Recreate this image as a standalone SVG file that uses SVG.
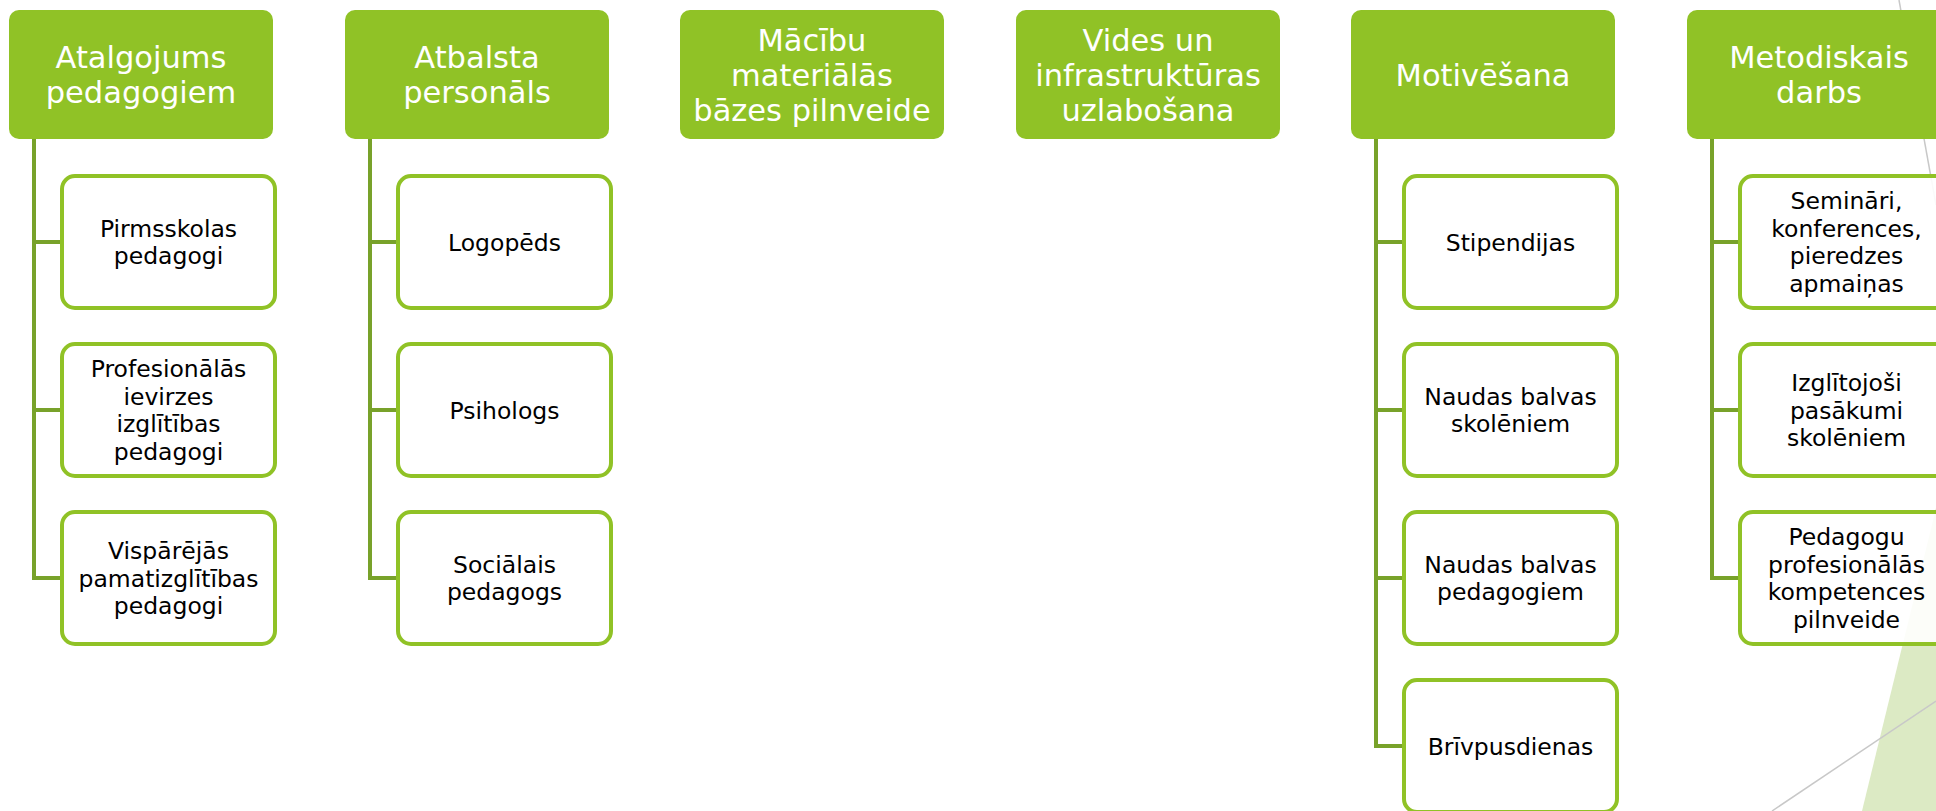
<svg xmlns="http://www.w3.org/2000/svg" width="1936" height="811" viewBox="0 0 1936 811">
<style>
.hdr{fill:#90C226;}
.htxt{font-family:"DejaVu Sans",sans-serif;font-size:30.5px;fill:#FFFFFF;text-anchor:middle;}
.child{fill:#FFFFFF;fill-opacity:0.9;stroke:#90C226;stroke-width:4;}
.ctxt{font-family:"DejaVu Sans",sans-serif;font-size:23.5px;fill:#000000;text-anchor:middle;}
.conn{fill:none;stroke:#78A22A;stroke-width:4;stroke-linejoin:miter;}
.deco{stroke:#C8C8C8;stroke-width:1.5;fill:none;}
</style>
<rect width="1936" height="811" fill="#FFFFFF"/>
<g id="background">
<polygon points="1862,811 1936,508 1936,811" fill="#DCEAC4"/>
<line class="deco" x1="1899" y1="0" x2="1936" y2="205"/>
<line class="deco" x1="1772" y1="811" x2="1936" y2="701"/>
</g>
<g id="connectors">
<path class="conn" d="M34,139 V578 H60 M34,242 H60 M34,410 H60"/>
<path class="conn" d="M370,139 V578 H396 M370,242 H396 M370,410 H396"/>
<path class="conn" d="M1376,139 V746 H1402 M1376,242 H1402 M1376,410 H1402 M1376,578 H1402"/>
<path class="conn" d="M1712,139 V578 H1738 M1712,242 H1738 M1712,410 H1738"/>
</g>
<g id="h1">
<rect class="hdr" x="9" y="10" width="264" height="129" rx="10"/>
<text class="htxt"><tspan x="141" y="68">Atalgojums</tspan><tspan x="141" y="103">pedagogiem</tspan></text>
</g>
<g id="c1a">
<rect class="child" x="62" y="176" width="213" height="132" rx="13"/>
<text class="ctxt"><tspan x="168.5" y="236.75">Pirmsskolas</tspan><tspan x="168.5" y="264.25">pedagogi</tspan></text>
</g>
<g id="c1b">
<rect class="child" x="62" y="344" width="213" height="132" rx="13"/>
<text class="ctxt"><tspan x="168.5" y="377.25">Profesionālās</tspan><tspan x="168.5" y="404.75">ievirzes</tspan><tspan x="168.5" y="432.25">izglītības</tspan><tspan x="168.5" y="459.75">pedagogi</tspan></text>
</g>
<g id="c1c">
<rect class="child" x="62" y="512" width="213" height="132" rx="13"/>
<text class="ctxt"><tspan x="168.5" y="559">Vispārējās</tspan><tspan x="168.5" y="586.5">pamatizglītības</tspan><tspan x="168.5" y="614">pedagogi</tspan></text>
</g>
<g id="h2">
<rect class="hdr" x="345" y="10" width="264" height="129" rx="10"/>
<text class="htxt"><tspan x="477" y="68">Atbalsta</tspan><tspan x="477" y="103">personāls</tspan></text>
</g>
<g id="c2a">
<rect class="child" x="398" y="176" width="213" height="132" rx="13"/>
<text class="ctxt"><tspan x="504.5" y="250.5">Logopēds</tspan></text>
</g>
<g id="c2b">
<rect class="child" x="398" y="344" width="213" height="132" rx="13"/>
<text class="ctxt"><tspan x="504.5" y="418.5">Psihologs</tspan></text>
</g>
<g id="c2c">
<rect class="child" x="398" y="512" width="213" height="132" rx="13"/>
<text class="ctxt"><tspan x="504.5" y="572.75">Sociālais</tspan><tspan x="504.5" y="600.25">pedagogs</tspan></text>
</g>
<g id="h3">
<rect class="hdr" x="680" y="10" width="264" height="129" rx="10"/>
<text class="htxt"><tspan x="812" y="50.5">Mācību</tspan><tspan x="812" y="85.5">materiālās</tspan><tspan x="812" y="120.5">bāzes pilnveide</tspan></text>
</g>
<g id="h4">
<rect class="hdr" x="1016" y="10" width="264" height="129" rx="10"/>
<text class="htxt"><tspan x="1148" y="50.5">Vides un</tspan><tspan x="1148" y="85.5">infrastruktūras</tspan><tspan x="1148" y="120.5">uzlabošana</tspan></text>
</g>
<g id="h5">
<rect class="hdr" x="1351" y="10" width="264" height="129" rx="10"/>
<text class="htxt"><tspan x="1483" y="85.5">Motivēšana</tspan></text>
</g>
<g id="c5a">
<rect class="child" x="1404" y="176" width="213" height="132" rx="13"/>
<text class="ctxt"><tspan x="1510.5" y="250.5">Stipendijas</tspan></text>
</g>
<g id="c5b">
<rect class="child" x="1404" y="344" width="213" height="132" rx="13"/>
<text class="ctxt"><tspan x="1510.5" y="404.75">Naudas balvas</tspan><tspan x="1510.5" y="432.25">skolēniem</tspan></text>
</g>
<g id="c5c">
<rect class="child" x="1404" y="512" width="213" height="132" rx="13"/>
<text class="ctxt"><tspan x="1510.5" y="572.75">Naudas balvas</tspan><tspan x="1510.5" y="600.25">pedagogiem</tspan></text>
</g>
<g id="c5d">
<rect class="child" x="1404" y="680" width="213" height="132" rx="13"/>
<text class="ctxt"><tspan x="1510.5" y="754.5">Brīvpusdienas</tspan></text>
</g>
<g id="h6">
<rect class="hdr" x="1687" y="10" width="264" height="129" rx="10"/>
<text class="htxt"><tspan x="1819" y="68">Metodiskais</tspan><tspan x="1819" y="103">darbs</tspan></text>
</g>
<g id="c6a">
<rect class="child" x="1740" y="176" width="213" height="132" rx="13"/>
<text class="ctxt"><tspan x="1846.5" y="209.25">Semināri,</tspan><tspan x="1846.5" y="236.75">konferences,</tspan><tspan x="1846.5" y="264.25">pieredzes</tspan><tspan x="1846.5" y="291.75">apmaiņas</tspan></text>
</g>
<g id="c6b">
<rect class="child" x="1740" y="344" width="213" height="132" rx="13"/>
<text class="ctxt"><tspan x="1846.5" y="391">Izglītojoši</tspan><tspan x="1846.5" y="418.5">pasākumi</tspan><tspan x="1846.5" y="446">skolēniem</tspan></text>
</g>
<g id="c6c">
<rect class="child" x="1740" y="512" width="213" height="132" rx="13"/>
<text class="ctxt"><tspan x="1846.5" y="545.25">Pedagogu</tspan><tspan x="1846.5" y="572.75">profesionālās</tspan><tspan x="1846.5" y="600.25">kompetences</tspan><tspan x="1846.5" y="627.75">pilnveide</tspan></text>
</g>
</svg>
